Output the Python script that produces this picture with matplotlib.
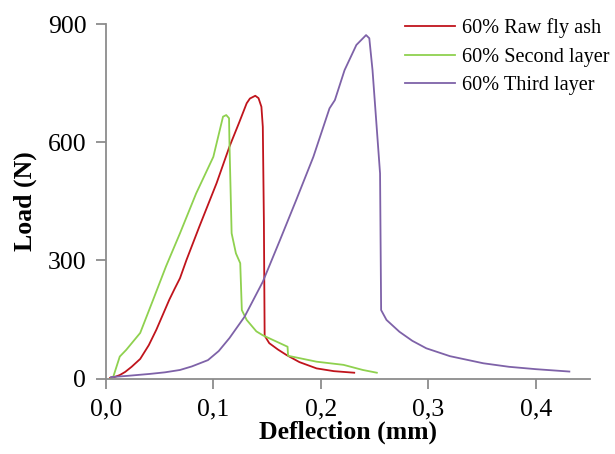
import matplotlib.pyplot as plt

plt.rcParams['font.family'] = ['Liberation Serif', 'DejaVu Serif']

# 60% Raw fly ash
raw_x = [0.004, 0.009, 0.013, 0.018, 0.024, 0.032, 0.04, 0.047, 0.053, 0.059, 0.064,
         0.069, 0.075, 0.087, 0.103, 0.115, 0.124, 0.131, 0.134, 0.139, 0.142, 0.1447,
         0.146, 0.147, 0.1477, 0.152, 0.16, 0.168, 0.18, 0.196, 0.212, 0.231]
raw_y = [2, 5, 9, 17, 30, 50, 85, 124, 162, 200, 228,
         255, 301, 386, 496, 589, 650, 699, 711, 718, 712, 690,
         639, 400, 109, 90, 74, 60, 42, 26, 19, 15]

# 60% Second layer
sec_x = [0.004, 0.007, 0.013, 0.019, 0.032, 0.044, 0.056, 0.069, 0.084, 0.1, 0.109,
         0.112, 0.1146, 0.115, 0.117, 0.121, 0.125, 0.1265, 0.131, 0.14, 0.146, 0.169,
         0.1695, 0.196, 0.221, 0.239, 0.252]
sec_y = [0, 5, 56, 73, 116, 200, 285, 369, 470, 563, 665,
         669, 661, 597, 369, 318, 293, 174, 149, 120, 110, 81,
         58, 43, 35, 22, 15]

# 60% Third layer
thr_x = [0.005, 0.02, 0.041, 0.055, 0.069, 0.08, 0.095, 0.105, 0.115, 0.129, 0.146,
         0.162, 0.177, 0.193, 0.208, 0.213, 0.222, 0.233, 0.242, 0.245, 0.248, 0.255,
         0.256, 0.261, 0.273, 0.285, 0.298, 0.32, 0.351, 0.375, 0.4, 0.431]
thr_y = [4, 7, 12, 16, 22, 31, 47, 70, 103, 157, 246,
         352, 453, 563, 686, 707, 783, 847, 872, 864, 783, 521,
         174, 149, 119, 96, 77, 57, 39, 30, 24, 18]

xticks = [0.0, 0.1, 0.2, 0.3, 0.4]
xlabels = ['0,0', '0,1', '0,2', '0,3', '0,4']
yticks = [0, 300, 600, 900]

fig = plt.figure(figsize=(6.15, 4.54), dpi=100)
ax = fig.add_axes([0.172, 0.166, 0.787, 0.781])

ax.plot(raw_x, raw_y, color='#C0141C', lw=1.3, label='60% Raw fly ash')
ax.plot(sec_x, sec_y, color='#8FD14F', lw=1.3, label='60% Second layer')
ax.plot(thr_x, thr_y, color='#7E62A8', lw=1.3, label='60% Third layer')

ax.set_xlim(0, 0.45)
ax.set_ylim(0, 900)
ax.set_xticks(xticks)
ax.set_xticklabels(xlabels)
ax.set_yticks(yticks)

for s in ['top', 'right']:
    ax.spines[s].set_visible(False)
for s in ['left', 'bottom']:
    ax.spines[s].set_color('#8c8c8c')
    ax.spines[s].set_linewidth(1.3)
ax.tick_params(direction='out', length=7, width=1.3, color='#8c8c8c',
               labelsize=18.5, pad=7)

ax.set_xlabel('Deflection (mm)', fontsize=18.5, fontweight='bold', labelpad=0)
ax.set_ylabel('Load (N)', fontsize=18.5, fontweight='bold', labelpad=8)

ax.legend(loc='upper left', bbox_to_anchor=(0.58, 1.067), frameon=False,
          fontsize=14.6, handlelength=2.5, handletextpad=0.3, labelspacing=0.45)

fig.savefig('out.png')
